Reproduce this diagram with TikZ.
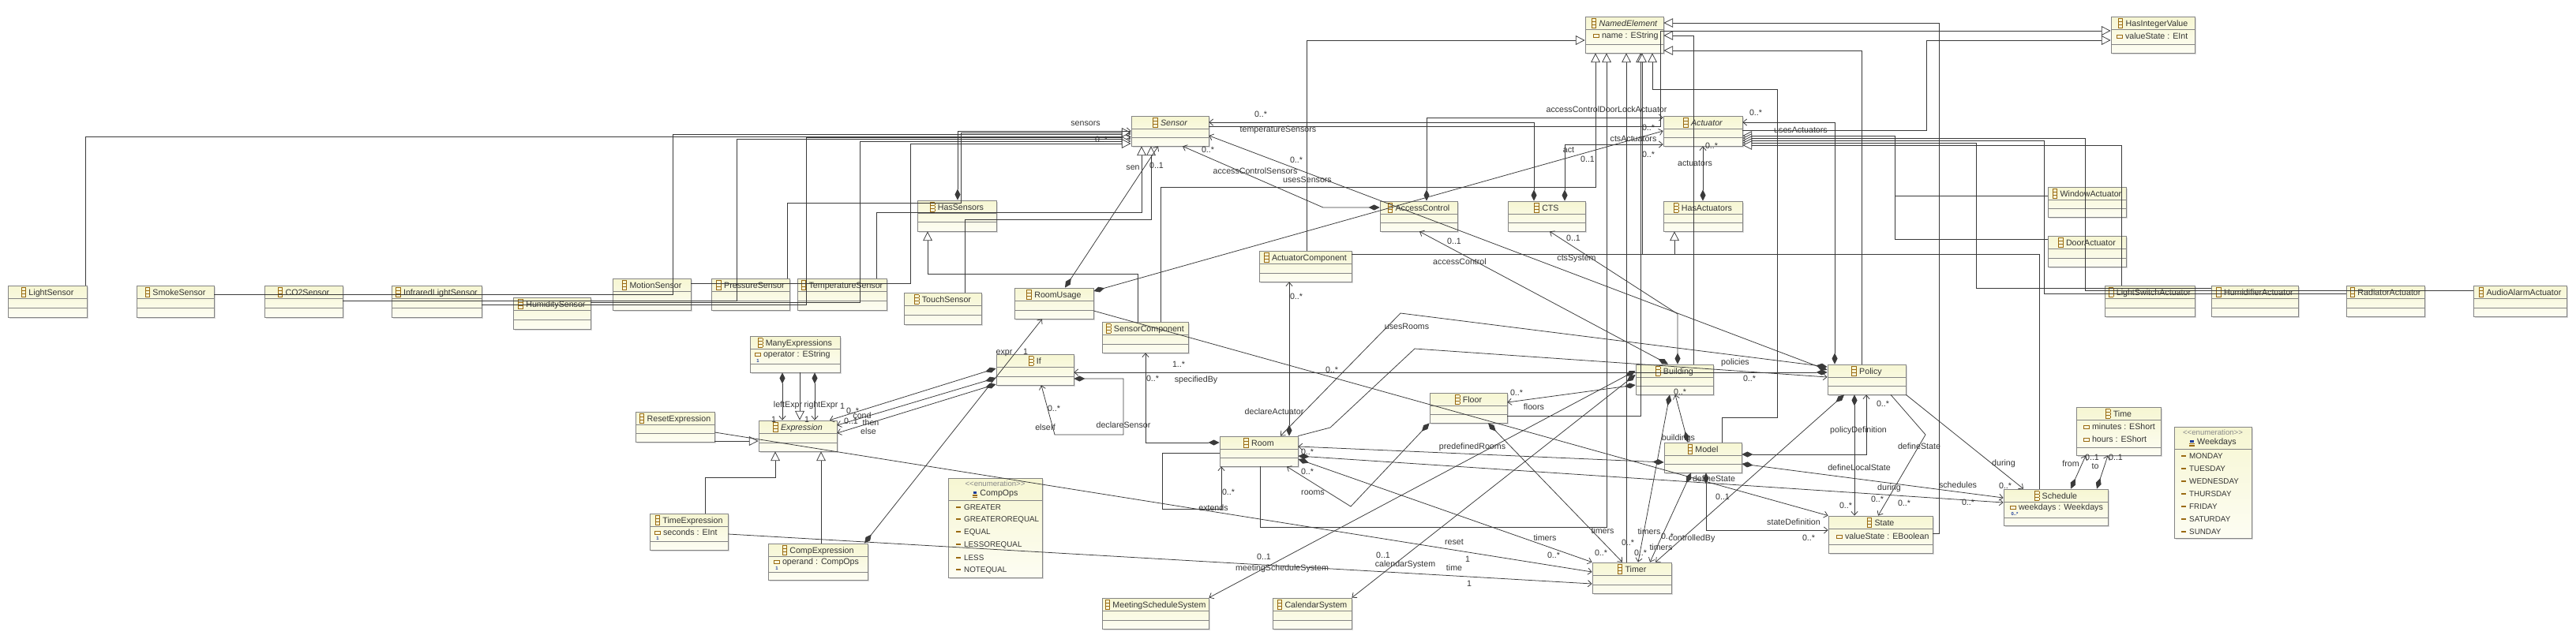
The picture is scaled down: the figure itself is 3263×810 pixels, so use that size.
\documentclass[tikz,border=0pt]{standalone}
\usepackage{fontspec}
\setmainfont{Liberation Sans}
\usetikzlibrary{arrows.meta,fit,calc}
\definecolor{boxtop}{HTML}{F6F6D2}
\definecolor{boxbot}{HTML}{FDFDF3}
\definecolor{boxline}{HTML}{858585}
\definecolor{linec}{HTML}{3A3A3A}
\definecolor{txtc}{HTML}{333333}
\definecolor{iconc}{HTML}{9A6A12}
\definecolor{multc}{HTML}{1E3C9A}
\definecolor{stereoc}{HTML}{8A8A8A}
\definecolor{shadowc}{HTML}{D9D9D9}

\newcommand{\clsicon}{{\color{iconc}\raisebox{-2.4pt}{\vbox{\hrule height .6pt\hbox{\vrule width .6pt height 2.8pt\kern4.2pt\vrule width .6pt}\hrule height .6pt\hbox{\vrule width .6pt height 2.8pt\kern4.2pt\vrule width .6pt}\hrule height .6pt\hbox{\vrule width .6pt height 2.8pt\kern4.2pt\vrule width .6pt}\hrule height .6pt}}}\kern3pt}
\newcommand{\enumicon}{{\raisebox{-2.4pt}{\vbox{\hbox{\kern1pt{\color{multc}\vrule width 3.5pt height 2.2pt}}\kern .9pt{\color{iconc}\hrule height .7pt width 5.5pt\kern .9pt\hrule height .7pt width 5.5pt\kern .9pt\hrule height .7pt width 5.5pt}}}}\kern3pt}
\newcommand{\atticon}{{\color{iconc}\raisebox{1.2pt}{\vbox{\hrule height .6pt\hbox{\vrule width .6pt height 2.6pt\kern5pt\vrule width .6pt}\hrule height .6pt}}}\kern3pt}
\newcommand{\liticon}{{\color{iconc}\rule[2.2pt]{5pt}{1.6pt}}\kern3.5pt}

\tikzset{
  clsbox/.style={draw=boxline, line width=0.7pt, inner sep=0pt, top color=boxtop, bottom color=boxbot},
  cline/.style={draw=boxline, line width=0.6pt},
  clstitle/.style={font=\fontsize{9.1}{10}\selectfont, text=txtc, inner sep=0pt},
  stereo/.style={font=\fontsize{8.2}{9}\selectfont, text=stereoc, inner sep=0pt},
  lbl/.style={font=\fontsize{9.1}{10}\selectfont, text=txtc, inner sep=0pt},
  attr/.style={font=\fontsize{9.1}{10}\selectfont, text=txtc, inner sep=0pt, anchor=west},
  lit/.style={font=\fontsize{8.4}{10}\selectfont, text=txtc, inner sep=0pt, anchor=west},
  mult/.style={font=\fontsize{5}{6}\selectfont\bfseries, text=multc, inner sep=0pt},
  conn/.style={draw=linec, line width=0.65pt},
  gen/.style={conn, -{Triangle[open, length=10pt, width=10pt, fill=white]}},
  assoc/.style={conn, -{Straight Barb[length=4pt, width=7pt]}},
  comp/.style={conn, {Diamond[length=12pt, width=6pt]}-{Straight Barb[length=4pt, width=7pt]}}
}

\newcommand{\ucls}[7]{%
  \fill[shadowc] (#2+2,#3+2) rectangle (#4+2,#5+2);
  \node[clsbox, fit={(#2,#3)(#4,#5)}] (#1) {};
  \draw[cline] (#2,#3+16) -- (#4,#3+16);
  \draw[cline] (#2,#6) -- (#4,#6);
  \node[clstitle] (#1-t) at ({(#2+#4)/2},#3+8.5) {\clsicon#7};
}
\newcommand{\uenum}[6]{%
  \fill[shadowc] (#2+2,#3+2) rectangle (#4+2,#5+2);
  \node[clsbox, fit={(#2,#3)(#4,#5)}] (#1) {};
  \draw[cline] (#2,#6) -- (#4,#6);
  \node[stereo] (#1-s) at ({(#2+#4)/2},#3+7) {<{}<enumeration>{}>};
  \node[clstitle] (#1-t) at ({(#2+#4)/2},#3+20) {\enumicon#1};
}
\newcommand{\lb}[4]{\node[lbl] (#1) at (#2,#3) {#4};}

\begin{document}
\begin{tikzpicture}[x=0.03cm,y=-0.03cm]
\useasboundingbox (0,0) rectangle (3263,810);
\fill[white] (0,0) rectangle (3263,810);

% ---------------- classes ----------------
\ucls{LightSensor}{10}{362}{110}{402}{390}{LightSensor}
\ucls{SmokeSensor}{173}{362}{271}{402}{390}{SmokeSensor}
\ucls{COSensor}{335}{362}{434}{402}{390}{CO2Sensor}
\ucls{InfraredLightSensor}{496}{362}{610}{402}{390}{InfraredLightSensor}
\ucls{HumiditySensor}{650}{377}{748}{417}{405}{HumiditySensor}
\ucls{MotionSensor}{776}{353}{875}{393}{381}{MotionSensor}
\ucls{PressureSensor}{901}{353}{1000}{393}{381}{PressureSensor}
\ucls{TemperatureSensor}{1010}{353}{1123}{393}{381}{TemperatureSensor}
\ucls{TouchSensor}{1145}{371}{1243}{411}{399}{TouchSensor}
\ucls{HasSensors}{1162}{254}{1262}{293}{281}{HasSensors}
\ucls{RoomUsage}{1285}{365}{1385}{404}{393}{RoomUsage}
\ucls{Sensor}{1433}{147}{1531}{185}{174}{\itshape Sensor}
\ucls{SensorComponent}{1396}{408}{1505}{447}{436}{SensorComponent}
\ucls{ActuatorComponent}{1595}{318}{1712}{357}{346}{ActuatorComponent}
\ucls{AccessControl}{1748}{255}{1846}{293}{282}{AccessControl}
\ucls{CTS}{1910}{255}{2008}{293}{282}{CTS}
\ucls{HasActuators}{2107}{255}{2207}{293}{282}{HasActuators}
\ucls{Actuator}{2107}{147}{2207}{185}{174}{\itshape Actuator}
\ucls{NamedElement}{2008}{21}{2107}{67}{56}{\itshape NamedElement}
\ucls{HasIntegerValue}{2674}{21}{2780}{67}{56}{HasIntegerValue}
\ucls{WindowActuator}{2594}{237}{2693}{275}{264}{WindowActuator}
\ucls{DoorActuator}{2594}{299}{2693}{338}{327}{DoorActuator}
\ucls{LightSwitchActuator}{2666}{362}{2780}{401}{390}{LightSwitchActuator}
\ucls{HumidifierActuator}{2801}{362}{2911}{401}{390}{HumidifierActuator}
\ucls{RadiatorActuator}{2972}{362}{3071}{401}{390}{RadiatorActuator}
\ucls{AudioAlarmActuator}{3133}{362}{3251}{401}{390}{AudioAlarmActuator}
\ucls{ManyExpressions}{950}{426}{1064}{472}{461}{ManyExpressions}
\ucls{Expression}{961}{533}{1060}{572}{561}{\itshape Expression}
\ucls{ResetExpression}{805}{522}{905}{560}{549}{ResetExpression}
\ucls{TimeExpression}{823}{651}{922}{697}{686}{TimeExpression}
\ucls{CompExpression}{973}{689}{1099}{735}{725}{CompExpression}
\ucls{If}{1262}{449}{1360}{488}{477}{If}
\ucls{MeetingScheduleSystem}{1396}{758}{1531}{797}{786}{MeetingScheduleSystem}
\ucls{CalendarSystem}{1612}{758}{1712}{797}{786}{CalendarSystem}
\ucls{Room}{1545}{553}{1644}{591}{580}{Room}
\ucls{Floor}{1811}{498}{1909}{536}{525}{Floor}
\ucls{Building}{2072}{462}{2170}{500}{489}{Building}
\ucls{Model}{2108}{561}{2206}{599}{588}{Model}
\ucls{Timer}{2017}{713}{2117}{752}{741}{Timer}
\ucls{Policy}{2315}{462}{2414}{500}{489}{Policy}
\ucls{State}{2316}{654}{2448}{701}{690}{State}
\ucls{Schedule}{2538}{620}{2670}{666}{656}{Schedule}
\ucls{Time}{2630}{516}{2737}{577}{567}{Time}
\uenum{CompOps}{1201}{606}{1320}{732}{634}
\uenum{Weekdays}{2754}{541}{2852}{682}{569}

% attributes
\node[attr] (a1) at (2018,46) {\atticon name : EString};
\node[attr] (a2) at (2681,46) {\atticon valueState : EInt};
\node[attr] (a3) at (956,450) {\atticon operator : EString};
\node[mult] (m3) at (960,457) {1};
\node[attr] (a4) at (829,675) {\atticon seconds : EInt};
\node[mult] (m4) at (833,682) {1};
\node[attr] (a5) at (980,713) {\atticon operand : CompOps};
\node[mult] (m5) at (984,720) {1};
\node[attr] (a6) at (2326,680) {\atticon valueState : EBoolean};
\node[attr] (a7) at (2546,644) {\atticon weekdays : Weekdays};
\node[mult] (m7) at (2552,651) {0..*};
\node[attr] (a8) at (2639,541) {\atticon minutes : EShort};
\node[attr] (a9) at (2639,557) {\atticon hours : EShort};
% literals
\node[lit] (c1) at (1211,643) {\liticon GREATER};
\node[lit] (c2) at (1211,659) {\liticon GREATEROREQUAL};
\node[lit] (c3) at (1211,675) {\liticon EQUAL};
\node[lit] (c4) at (1211,691) {\liticon LESSOREQUAL};
\node[lit] (c5) at (1211,707) {\liticon LESS};
\node[lit] (c6) at (1211,723) {\liticon NOTEQUAL};
\node[lit] (w1) at (2763,578) {\liticon MONDAY};
\node[lit] (w2) at (2763,594) {\liticon TUESDAY};
\node[lit] (w3) at (2763,610) {\liticon WEDNESDAY};
\node[lit] (w4) at (2763,626) {\liticon THURSDAY};
\node[lit] (w5) at (2763,642) {\liticon FRIDAY};
\node[lit] (w6) at (2763,658) {\liticon SATURDAY};
\node[lit] (w7) at (2763,674) {\liticon SUNDAY};

% ---------------- generalizations ----------------
\draw[gen] (108,0 |- LightSensor.north) -- (108,173) -- (Sensor.west |- 0,173);
\draw[gen] (SmokeSensor.east |- 0,373) -- (852,373) -- (852,170) -- (Sensor.west |- 0,170);
\draw[gen] (COSensor.east |- 0,381) -- (933,381) -- (933,176) -- (Sensor.west |- 0,176);
\draw[gen] (InfraredLightSensor.east |- 0,386) -- (1021,386) -- (1021,174) -- (Sensor.west |- 0,174);
\draw[gen] (HumiditySensor.east |- 0,383) -- (1089,383) -- (1089,179) -- (Sensor.west |- 0,179);
\draw[gen] (MotionSensor.east |- 0,359) -- (1153,359) -- (1153,182) -- (Sensor.west |- 0,182);
\draw[gen] (997,0 |- PressureSensor.north) -- (997,257) -- (1217,257) -- (1217,168) -- (Sensor.west |- 0,168);
\draw[gen] (1110,0 |- TemperatureSensor.north) -- (1110,269) -- (1446,269) -- (1446,0 |- Sensor.south);
\draw[gen] (1222,0 |- TouchSensor.north) -- (1222,278) -- (1458,278) -- (1458,0 |- Sensor.south);
\draw[gen] (1441,0 |- SensorComponent.north) -- (1441,347) -- (1175,347) -- (1175,0 |- HasSensors.south);
\draw[gen] (1470,0 |- SensorComponent.north) -- (1470,237) -- (2021,237) -- (2021,0 |- NamedElement.south);
\draw[gen] (1655,0 |- ActuatorComponent.north) -- (1655,51) -- (NamedElement.west |- 0,51);
\draw[gen] (ActuatorComponent.east |- 0,322) -- (2121,322) -- (2121,0 |- HasActuators.south);
\draw[gen] (1596,0 |- Room.south) -- (1596,668) -- (2035,668) -- (2035,0 |- NamedElement.south);
\draw[gen] (2060,0 |- Timer.north) -- (2060,0 |- NamedElement.south);
\draw[gen] (Floor.east |- 0,527) -- (2078,527) -- (2078,0 |- NamedElement.south);
\draw[gen] (2583,0 |- Schedule.north) -- (2583,322) -- (2080,322) -- (2080,0 |- NamedElement.south);
\draw[gen] (2181,0 |- Model.north) -- (2181,529) -- (2251,529) -- (2251,113) -- (2093,113) -- (2093,0 |- NamedElement.south);
\draw[gen] (2145,0 |- Building.north) -- (2145,45) -- (NamedElement.east |- 0,45);
\draw[gen] (2358,0 |- Policy.north) -- (2358,64) -- (NamedElement.east |- 0,64);
\draw[gen] (State.east |- 0,676) -- (2456,676) -- (2456,29) -- (NamedElement.east |- 0,29);
\draw[gen] (Actuator.east |- 0,165) -- (2440,165) -- (2440,51) -- (HasIntegerValue.west |- 0,51);
\draw[gen] (Sensor.east |- 0,160) -- (2103,160) -- (2103,39) -- (HasIntegerValue.west |- 0,39);
\draw[gen] (WindowActuator.west |- 0,248) -- (2400,248) -- (2400,172) -- (Actuator.east |- 0,172);
\draw[conn] (DoorActuator.west |- 0,303) -- (2400,303) -- (2400,248);
\draw[gen] (AudioAlarmActuator.west |- 0,368) -- (2641,368) -- (2641,175) -- (Actuator.east |- 0,175);
\draw[gen] (RadiatorActuator.west |- 0,372) -- (2589,372) -- (2589,178) -- (Actuator.east |- 0,178);
\draw[gen] (HumidifierActuator.west |- 0,365) -- (2503,365) -- (2503,181) -- (Actuator.east |- 0,181);
\draw[gen] (2687,0 |- LightSwitchActuator.north) -- (2687,184) -- (Actuator.east |- 0,184);
\draw[gen] (ResetExpression.east |- 0,559) -- (Expression.west |- 0,559);
\draw[gen] (1013,0 |- ManyExpressions.south) -- (1013,0 |- Expression.north);
\draw[gen] (893,0 |- TimeExpression.north) -- (893,605) -- (982,605) -- (982,0 |- Expression.south);
\draw[gen] (1040,0 |- CompExpression.north) -- (1040,0 |- Expression.south);

% ---------------- associations ----------------
\draw[comp] (1213,0 |- HasSensors.north) -- (1213,166) -- (Sensor.west |- 0,166);
\draw[comp] (1943,0 |- CTS.north) -- (1943,155) -- (Sensor.east |- 0,155);
\draw[comp] (AccessControl.west |- 0,263) -- (1676,263) -- (1498,0 |- Sensor.south);
\draw[comp] (Policy.west |- 0,469) -- (Sensor.east |- 0,172);
\draw[comp] (1349,0 |- RoomUsage.north) -- (1467,0 |- Sensor.south);
\draw[comp] (RoomUsage.east |- 0,369) -- (Actuator.west |- 0,166);
\draw[comp] (1807,0 |- AccessControl.north) -- (1807,149) -- (Actuator.west |- 0,149);
\draw[comp] (1982,0 |- CTS.north) -- (1982,183) -- (Actuator.west |- 0,183);
\draw[comp] (2157,0 |- HasActuators.north) -- (2157,0 |- Actuator.south);
\draw[comp] (2324,0 |- Policy.north) -- (2324,155) -- (Actuator.east |- 0,155);
\draw[comp] (2113,0 |- Building.north) -- (1798,0 |- AccessControl.south);
\draw[comp] (2125,0 |- Building.north) -- (2125,398) -- (1963,0 |- CTS.south);
\draw[comp] (1633,0 |- Room.north) -- (1633,0 |- ActuatorComponent.south);
\draw[comp] (Room.west |- 0,561) -- (1451,561) -- (1451,0 |- SensorComponent.south);
\draw[assoc] (Room.west |- 0,574) -- (1472,574) -- (1472,645) -- (1547,645) -- (1547,0 |- Room.south);
\draw[comp] (Policy.west |- 0,465) -- (1774,397) -- (1622,0 |- Room.north);
\draw[assoc] (Room.north east) -- (1685,542) -- (1792,442) -- (Policy.west |- 0,478);
\draw[comp] (Policy.west |- 0,472) -- (If.east |- 0,472);
\draw[comp] (If.east |- 0,480) -- (1423,480) -- (1423,551) -- (1336,551) -- (1319,0 |- If.south);
\draw[comp] (If.west |- 0,467) -- (1051,0 |- Expression.north);
\draw[comp] (If.west |- 0,479) -- (Expression.east |- 0,539);
\draw[comp] (If.west |- 0,487) -- (Expression.east |- 0,549);
\draw[comp] (991,0 |- ManyExpressions.south) -- (991,0 |- Expression.north);
\draw[comp] (1032,0 |- ManyExpressions.south) -- (1032,0 |- Expression.north);
\draw[comp] (1095,0 |- CompExpression.north) -- (1320,0 |- RoomUsage.south);
\draw[assoc] (ResetExpression.east |- 0,548) -- (Timer.west |- 0,725);
\draw[assoc] (TimeExpression.east |- 0,677) -- (Timer.west |- 0,740);
\draw[comp] (Room.east |- 0,582) -- (Timer.north west);
\draw[comp] (1885,0 |- Floor.south) -- (2055,0 |- Timer.north);
\draw[comp] (2115,0 |- Building.south) -- (2075,0 |- Timer.north);
\draw[comp] (2142,0 |- Model.south) -- (2090,0 |- Timer.north);
\draw[comp] (2336,0 |- Policy.south) -- (2097,0 |- Timer.north);
\draw[comp] (2138,0 |- Model.north) -- (2122,0 |- Building.south);
\draw[comp] (Building.west |- 0,488) -- (Floor.east |- 0,510);
\draw[comp] (Floor.south west) -- (1711,642) -- (1630,0 |- Room.south);
\draw[comp] (Model.west |- 0,586) -- (Room.east |- 0,566);
\draw[comp] (Room.east |- 0,578) -- (Schedule.west |- 0,637);
\draw[comp] (Model.east |- 0,588) -- (Schedule.west |- 0,631);
\draw[comp] (Model.east |- 0,576) -- (2364,576) -- (2364,0 |- Policy.south);
\draw[comp] (2161,0 |- Model.south) -- (2161,672) -- (State.west |- 0,672);
\draw[assoc] (RoomUsage.east |- 0,394) -- (State.north west);
\draw[assoc] (2395,0 |- Policy.south) -- (2439,551) -- (2379,0 |- State.north);
\draw[comp] (2349,0 |- Policy.south) -- (2349,0 |- State.north);
\draw[assoc] (Policy.south east) -- (2563,0 |- Schedule.north);
\draw[comp] (2623,0 |- Schedule.north) -- (2642,0 |- Time.south);
\draw[comp] (2656,0 |- Schedule.north) -- (2670,0 |- Time.south);
\draw[comp] (Building.west |- 0,470) -- (MeetingScheduleSystem.north east);
\draw[comp] (Building.west |- 0,475) -- (CalendarSystem.north east);

% ---------------- labels ----------------
\lb{l1}{1375}{157}{sensors}
\lb{l2}{1395}{177}{0..*}
\lb{l3}{1597}{145}{0..*}
\lb{l4}{1619}{165}{temperatureSensors}
\lb{l5}{1530}{190}{0..*}
\lb{l6}{1590}{217}{accessControlSensors}
\lb{l7}{1642}{203}{0..*}
\lb{l8}{1656}{228}{usesSensors}
\lb{l9}{1435}{213}{sen}
\lb{l10}{1465}{210}{0..1}
\lb{l11}{1987}{190}{act}
\lb{l12}{2011}{202}{0..1}
\lb{l13}{2035}{139}{accessControlDoorLockActuator}
\lb{l14}{2088}{162}{0..*}
\lb{l15}{2069}{176}{ctsActuators}
\lb{l16}{2088}{196}{0..*}
\lb{l17}{2168}{185}{0..*}
\lb{l18}{2147}{207}{actuators}
\lb{l19}{2224}{143}{0..*}
\lb{l20}{2281}{165}{usesActuators}
\lb{l21}{1842}{306}{0..1}
\lb{l22}{1849}{332}{accessControl}
\lb{l23}{1993}{302}{0..1}
\lb{l24}{1997}{328}{ctsSystem}
\lb{l25}{1642}{376}{0..*}
\lb{l26}{1614}{522}{declareActuator}
\lb{l27}{1460}{480}{0..*}
\lb{l28}{1423}{539}{declareSensor}
\lb{l29}{1782}{414}{usesRooms}
\lb{l30}{1687}{469}{0..*}
\lb{l31}{1493}{462}{1..*}
\lb{l32}{1515}{482}{specifiedBy}
\lb{l33}{1335}{518}{0..*}
\lb{l34}{1324}{542}{elseIf}
\lb{l35}{1080}{521}{0..*}
\lb{l36}{1092}{527}{cond}
\lb{l37}{1078}{534}{0..1}
\lb{l38}{1103}{536}{then}
\lb{l39}{1100}{547}{else}
\lb{l40}{1067}{515}{1}
\lb{l41}{998}{514}{leftExpr}
\lb{l42}{1040}{514}{rightExpr}
\lb{l43}{980}{532}{1}
\lb{l44}{1022}{532}{1}
\lb{l45}{1272}{448}{expr}
\lb{l46}{1299}{446}{1}
\lb{l47}{1842}{687}{reset}
\lb{l48}{1859}{709}{1}
\lb{l49}{1842}{720}{time}
\lb{l50}{1861}{740}{1}
\lb{l51}{1957}{682}{timers}
\lb{l52}{1968}{704}{0..*}
\lb{l53}{2030}{673}{timers}
\lb{l54}{2028}{701}{0..*}
\lb{l55}{2089}{674}{timers}
\lb{l56}{2062}{688}{0..*}
\lb{l94}{2078}{701}{0..*}
\lb{l57}{2104}{694}{timers}
\lb{l58}{2112}{680}{0..*}
\lb{l59}{2143}{683}{controlledBy}
\lb{l60}{2128}{497}{0..*}
\lb{l61}{2126}{556}{buildings}
\lb{l62}{1921}{498}{0..*}
\lb{l63}{1943}{516}{floors}
\lb{l64}{1656}{598}{0..*}
\lb{l65}{1663}{625}{rooms}
\lb{l66}{1865}{567}{predefinedRooms}
\lb{l67}{1656}{573}{0..*}
\lb{l95}{1556}{624}{0..*}
\lb{l96}{1537}{644}{extends}
\lb{l68}{2393}{619}{during}
\lb{l69}{2493}{637}{0..*}
\lb{l70}{2480}{615}{schedules}
\lb{l71}{2378}{633}{0..*}
\lb{l72}{2412}{638}{0..*}
\lb{l73}{2354}{546}{policyDefinition}
\lb{l74}{2272}{662}{stateDefinition}
\lb{l75}{2291}{682}{0..*}
\lb{l76}{2171}{607}{defineState}
\lb{l77}{2182}{630}{0..1}
\lb{l78}{2385}{512}{0..*}
\lb{l79}{2431}{566}{defineState}
\lb{l80}{2355}{593}{defineLocalState}
\lb{l81}{2338}{641}{0..*}
\lb{l82}{2538}{588}{during}
\lb{l83}{2540}{616}{0..*}
\lb{l84}{2623}{588}{from}
\lb{l85}{2650}{580}{0..1}
\lb{l86}{2654}{591}{to}
\lb{l87}{2680}{580}{0..1}
\lb{l88}{1601}{706}{0..1}
\lb{l89}{1624}{721}{meetingScheduleSystem}
\lb{l90}{1752}{704}{0..1}
\lb{l91}{1780}{716}{calendarSystem}
\lb{l92}{2198}{460}{policies}
\lb{l93}{2216}{480}{0..*}
\end{tikzpicture}
\end{document}
